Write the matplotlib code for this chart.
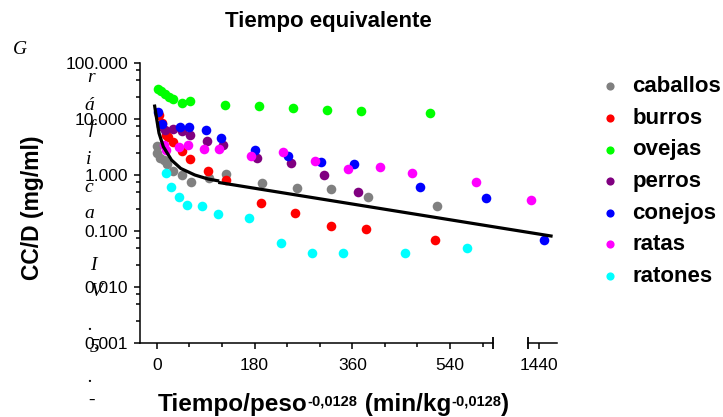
# Grafico de tiempo equivalente: CC/D frente a tiempo/peso^-0,0128 para varias especies

import numpy as np
import matplotlib
matplotlib.use('Agg')
import matplotlib.pyplot as plt
from matplotlib.ticker import LogLocator, NullFormatter

plt.rcParams['font.family'] = 'Liberation Sans'

# 1. Datos (x en min/kg^-0,0128, y en mg/ml)
caballos_x = [0, 1, 6, 13, 19, 30, 47, 63, 96, 128, 193, 258, 320, 388, 516]
caballos_y = [3.25, 2.44, 2.05, 1.85, 1.54, 1.18, 1.0, 0.76, 0.89, 1.03, 0.71, 0.58, 0.56, 0.40, 0.28]

burros_x = [4, 9, 17, 21, 30, 46, 62, 95, 127, 191, 255, 320, 385, 513]
burros_y = [11.8, 8.4, 5.1, 4.8, 3.9, 2.7, 1.9, 1.17, 0.80, 0.32, 0.21, 0.122, 0.109, 0.069]

ovejas_x = [2, 8, 15, 22, 29, 46, 61, 125, 188, 250, 314, 376, 503]
ovejas_y = [35, 31, 28, 25, 22.5, 19.5, 21.0, 17.8, 17.1, 15.7, 14.3, 13.7, 12.8]

perros_x = [8, 15, 30, 46, 61, 92, 122, 184, 247, 308, 371]
perros_y = [7.5, 6.4, 6.5, 6.1, 5.2, 4.05, 3.4, 1.99, 1.66, 1.0, 0.50]

conejos_x = [2, 10, 43, 60, 90, 119, 181, 242, 303, 363, 485, 607, 1450]
conejos_y = [13.5, 8.0, 7.2, 7.2, 6.4, 4.5, 2.8, 2.18, 1.69, 1.57, 0.61, 0.39, 0.069]

ratas_x = [13, 17, 41, 58, 87, 115, 173, 233, 292, 352, 411, 470, 588, 1427]
ratas_y = [3.4, 2.8, 3.16, 3.4, 2.94, 2.95, 2.18, 2.6, 1.78, 1.28, 1.41, 1.07, 0.74, 0.36]

ratones_x = [17, 27, 41, 56, 84, 112, 170, 228, 285, 342, 457, 571]
ratones_y = [1.07, 0.62, 0.41, 0.29, 0.28, 0.20, 0.169, 0.060, 0.041, 0.041, 0.041, 0.050]

# Curva ajustada en dos tramos
curva1_x = [-4, 0, 4, 12, 27, 44, 70, 94, 112]
curva1_y = [17.0, 9.6, 5.6, 3.2, 1.85, 1.31, 1.0, 0.85, 0.79]
curva2_x = [116, 620, 1463]
curva2_y = [0.73, 0.119, 0.0814]

especies = ['caballos', 'burros', 'ovejas', 'perros', 'conejos', 'ratas', 'ratones']
colores = ['#808080', '#FF0000', '#00FF00', '#800080', '#0000FF', '#FF00FF', '#00FFFF']
series_x = [caballos_x, burros_x, ovejas_x, perros_x, conejos_x, ratas_x, ratones_x]
series_y = [caballos_y, burros_y, ovejas_y, perros_y, conejos_y, ratas_y, ratones_y]

# 2. Eje x con corte entre 620 y 1420
CORTE_INI = 620
CORTE_FIN = 1420
HUECO = 63

def adelante(x):
    x = np.asarray(x, dtype=float)
    return np.where(x <= CORTE_INI, x,
                    np.where(x >= CORTE_FIN, x - (CORTE_FIN - CORTE_INI) + HUECO,
                             CORTE_INI + (x - CORTE_INI) * HUECO / (CORTE_FIN - CORTE_INI)))

def atras(u):
    u = np.asarray(u, dtype=float)
    return np.where(u <= CORTE_INI, u,
                    np.where(u >= CORTE_INI + HUECO, u + (CORTE_FIN - CORTE_INI) - HUECO,
                             CORTE_INI + (u - CORTE_INI) * (CORTE_FIN - CORTE_INI) / HUECO))

# 3. Figura
fig = plt.figure(figsize=(7.23, 4.17), dpi=100)
W, H = 723, 417
ax = fig.add_axes([140 / W, 1 - 343 / H, (557 - 140) / W, (343 - 63) / H])

for nombre, color, xs, ys in zip(especies, colores, series_x, series_y):
    ax.scatter(xs, ys, s=48, color=color, linewidths=0, label=nombre, zorder=3, clip_on=False)

ax.plot(curva1_x, curva1_y, color='black', linewidth=2.3, zorder=4)
ax.plot(curva2_x, curva2_y, color='black', linewidth=2.3, zorder=4)

ax.set_yscale('log')
ax.set_ylim(0.001, 100)
ax.set_xscale('function', functions=(adelante, atras))
ax.set_xlim(-31, 1474)

# Ticks del eje y
ax.set_yticks([0.001, 0.01, 0.1, 1, 10, 100])
ax.set_yticklabels(['0.001', '0.010', '0.100', '1.000', '10.000', '100.000'])
ax.yaxis.set_minor_locator(LogLocator(base=10, subs=(2.5, 5, 7.5)))
ax.yaxis.set_minor_formatter(NullFormatter())

# Ticks del eje x
ax.set_xticks([0, 180, 360, 540, 1440])
ax.set_xticklabels(['0', '180', '360', '540', '1440'])
ax.set_xticks([60, 120, 240, 300, 420, 480, 600], minor=True)

ax.tick_params(axis='both', which='major', direction='out', length=4.3, width=1.1, labelsize=12.5)
ax.tick_params(axis='both', which='minor', direction='out', length=3, width=1.1)
ax.tick_params(axis='x', which='major', pad=6.5)
ax.tick_params(axis='y', which='major', pad=4.3)

for lado in ['top', 'right', 'bottom']:
    ax.spines[lado].set_visible(False)
ax.spines['left'].set_linewidth(1.1)

# Linea del eje x en dos tramos con marcas de corte
trans = ax.get_xaxis_transform()
ax.plot([-31, CORTE_INI], [0, 0], color='black', linewidth=1.1, transform=trans, clip_on=False)
ax.plot([CORTE_FIN, 1474], [0, 0], color='black', linewidth=1.1, transform=trans, clip_on=False)
ax.plot([CORTE_INI, CORTE_FIN], [0, 0], marker='|', markersize=8, markeredgewidth=1.3,
        linestyle='none', color='black', transform=trans, clip_on=False)

# 4. Textos
fig.text(328 / W, 1 - 22 / H, 'Tiempo equivalente', ha='center', va='center',
         fontsize=16, fontweight='bold')
fig.text(33 / W, 1 - 208 / H, 'CC/D (mg/ml)', rotation=90, ha='center', va='center',
         fontsize=16.5, fontweight='bold')

# Etiqueta del eje x por partes, con los exponentes como superindices
base_y = 5.5  # linea base en pixeles de figura
sup_y = 11.5
t1 = fig.text(158 / W, base_y / H, 'Tiempo/peso', ha='left', va='baseline',
              fontsize=17.5, fontweight='bold')
t2 = ax.annotate('-0,0128', xy=(1, sup_y), xycoords=(t1, 'figure pixels'),
                 ha='left', va='baseline', fontsize=10.5, fontweight='bold', annotation_clip=False)
t3 = ax.annotate(' (min/kg', xy=(1, base_y), xycoords=(t2, 'figure pixels'),
                 ha='left', va='baseline', fontsize=17.5, fontweight='bold', annotation_clip=False)
t4 = ax.annotate('-0,0128', xy=(1, sup_y), xycoords=(t3, 'figure pixels'),
                 ha='left', va='baseline', fontsize=10.5, fontweight='bold', annotation_clip=False)
t5 = ax.annotate(')', xy=(1, base_y), xycoords=(t4, 'figure pixels'),
                 ha='left', va='baseline', fontsize=17.5, fontweight='bold', annotation_clip=False)

# Texto "Grafica IV.5.-" descolocado en vertical, como en el original
letras = [('G', 20, 49), ('r', 91, 77), ('á', 89, 105), ('f', 91, 128), ('i', 89, 160),
          ('c', 89, 187), ('a', 89, 213), ('I', 93, 265), ('V', 97, 291), ('.', 90, 325),
          ('5', 95, 347), ('.', 90, 378), ('-', 92, 400)]
for letra, px, py in letras:
    fig.text(px / W, 1 - py / H, letra, ha='center', va='center', fontsize=14,
             family='Liberation Serif', style='italic')

# 5. Leyenda
ax.legend(loc='upper left', bbox_to_anchor=(599 / W, 1 - 76 / H), bbox_transform=fig.transFigure,
          frameon=False, prop={'size': 16, 'weight': 'bold'}, scatterpoints=1,
          handlelength=1.0, handletextpad=0.5, labelspacing=0.48, markerscale=0.85,
          borderpad=0, borderaxespad=0)

fig.savefig('out.png', dpi=100)
